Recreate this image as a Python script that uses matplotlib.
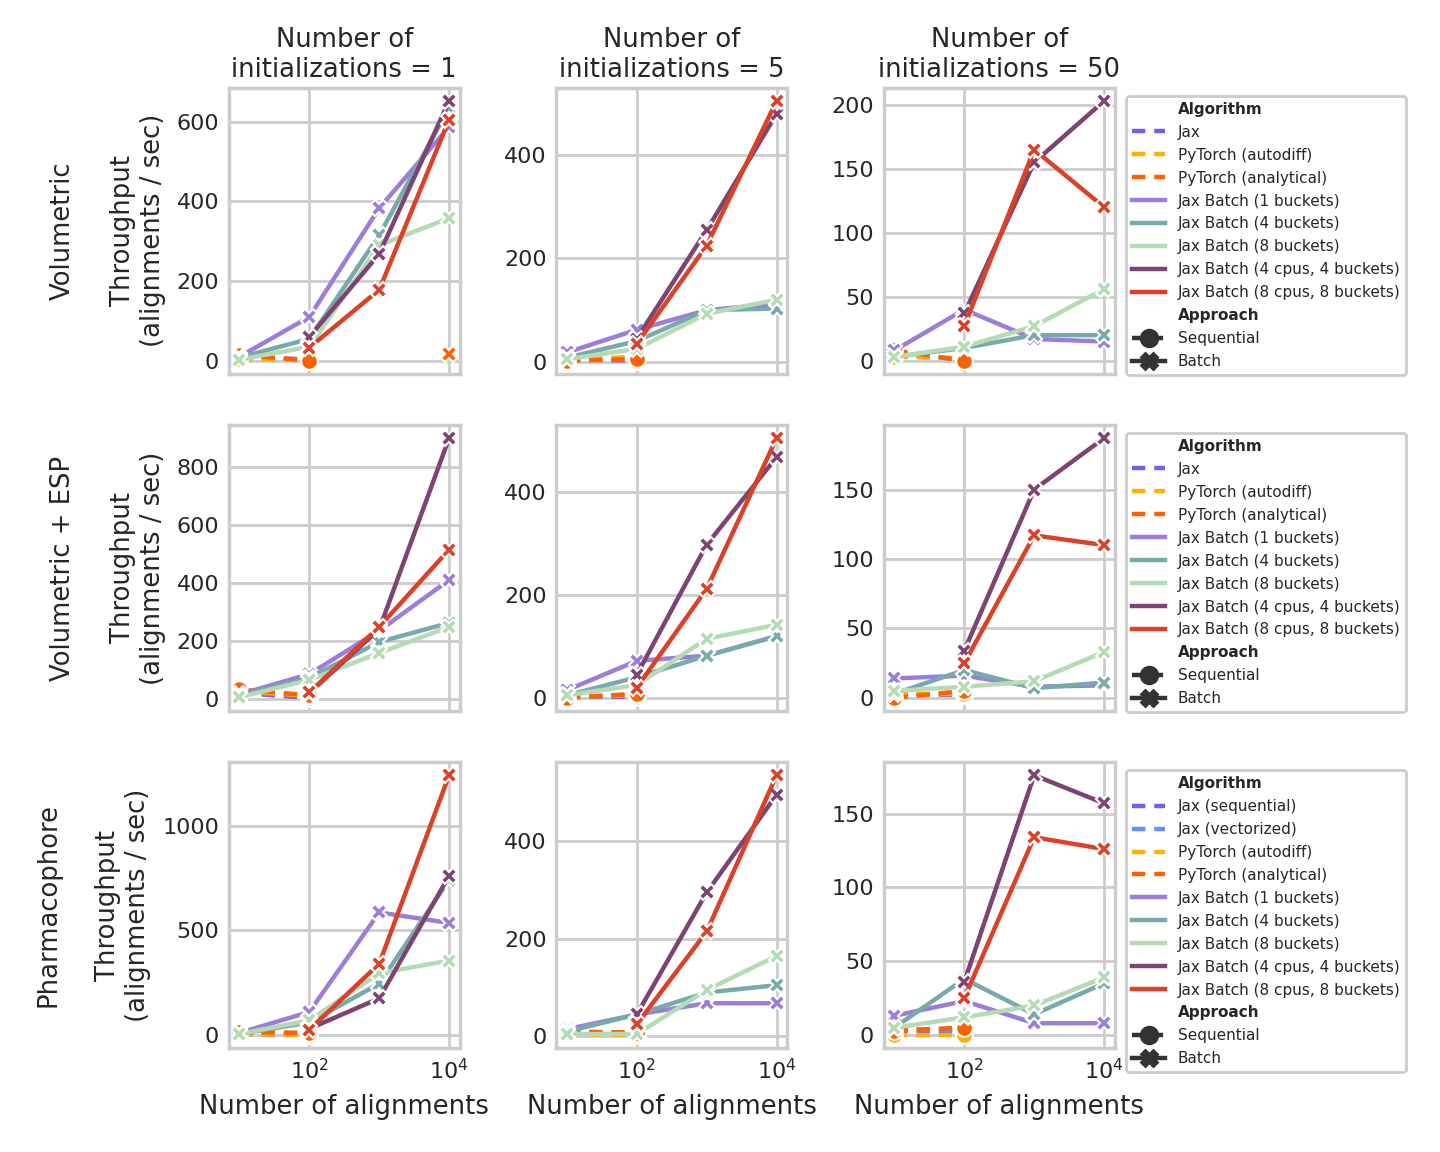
import matplotlib
matplotlib.use("Agg")
import matplotlib.pyplot as plt
from matplotlib.lines import Line2D
from matplotlib.ticker import MaxNLocator

SIZES = [10, 100, 1000, 10000]
CPU_SIZES = [100, 1000, 10000]
SEQ_SIZES = [10, 100]
INITS = [1, 5, 50]
DATASETS = ["Volumetric", "Volumetric + ESP", "Pharmacophore"]

# throughput (alignments / sec), one inner list per number of initializations (1, 5, 50)
# --- Volumetric ---
VOL_B1 = [[10, 110, 383, 587], [18, 62, 100, 112], [8, 40, 17, 15]]
VOL_B4 = [[8, 55, 315, 635], [8, 40, 100, 103], [3, 10, 20, 20]]
VOL_B8 = [[3, 35, 290, 358], [5, 25, 93, 120], [3, 11, 27, 56]]
VOL_C4 = [[60, 268, 652], [45, 255, 480], [37, 155, 203]]
VOL_C8 = [[33, 178, 605], [35, 225, 505], [27, 165, 120]]
VOL_JAX = [[10, 3], [5, 2], [5, 1]]
VOL_AUTODIFF = [[5, 5], [3, 10], [3, 2]]
VOL_ANALYTICAL = [[15, 0], [2, 5], [8, 0]]
VOL_ANALYTICAL_BATCH_1E4 = 18  # lone batch point, 1 initialization

# --- Volumetric + ESP ---
ESP_B1 = [[15, 85, 235, 410], [15, 72, 82, 120], [14, 16, 8, 9]]
ESP_B4 = [[10, 72, 196, 262], [5, 40, 82, 120], [3, 20, 7, 11]]
ESP_B8 = [[5, 65, 158, 248], [5, 25, 115, 142], [5, 8, 12, 33]]
ESP_C4 = [[20, 240, 900], [45, 298, 468], [34, 150, 187]]
ESP_C8 = [[22, 248, 515], [20, 212, 505], [25, 117, 110]]
ESP_JAX = [[20, 3], [3, 2], [3, 2]]
ESP_AUTODIFF = [[25, 10], [3, 5], [3, 3]]
ESP_ANALYTICAL = [[32, 12], [0, 8], [0, 5]]

# --- Pharmacophore ---
PH_B1 = [[10, 110, 585, 535], [15, 45, 68, 68], [13, 23, 8, 8]]
PH_B4 = [[5, 60, 245, 740], [10, 45, 90, 105], [5, 38, 14, 35]]
PH_B8 = [[5, 70, 295, 355], [5, 5, 95, 165], [5, 12, 20, 39]]
PH_C4 = [[30, 175, 760], [45, 295, 495], [36, 176, 157]]
PH_C8 = [[25, 340, 1240], [25, 215, 535], [25, 134, 126]]
PH_JAX_SEQ = [[5, 2], [10, 3], [3, 2]]
PH_JAX_VEC = [[8, 5], [8, 5], [4, 3]]
PH_AUTODIFF = [[5, 0], [5, 3], [0, 0]]
PH_ANALYTICAL = [[15, 10], [10, 8], [3, 5]]

COLORS = {
    "Jax": "#785EF0",
    "Jax (sequential)": "#785EF0",
    "Jax (vectorized)": "#648FFF",
    "PyTorch (autodiff)": "#FFB000",
    "PyTorch (analytical)": "#FE6100",
    "Jax Batch (1 buckets)": "#9D7DDA",
    "Jax Batch (4 buckets)": "#78AAAC",
    "Jax Batch (8 buckets)": "#B5DBB5",
    "Jax Batch (4 cpus, 4 buckets)": "#7D4471",
    "Jax Batch (8 cpus, 8 buckets)": "#DC4128",
}

LW = 1.6
MS = 6
DASH = (3, 2)

plt.rcParams.update({
    "font.family": "DejaVu Sans",
    "text.color": "0.15",
    "axes.labelcolor": "0.15",
    "xtick.color": "0.15",
    "ytick.color": "0.15",
    "axes.edgecolor": "0.8",
    "axes.linewidth": 1.25,
    "grid.color": "0.8",
    "grid.linewidth": 1.0,
    "xtick.major.size": 0,
    "ytick.major.size": 0,
    "xtick.minor.size": 0,
    "ytick.minor.size": 0,
    "xtick.labelsize": 8,
    "ytick.labelsize": 8,
    "axes.titlesize": 9.3,
    "axes.labelsize": 9.3,
})


def panels():
    seq = [
        {"Jax": VOL_JAX, "PyTorch (autodiff)": VOL_AUTODIFF,
         "PyTorch (analytical)": VOL_ANALYTICAL},
        {"Jax": ESP_JAX, "PyTorch (autodiff)": ESP_AUTODIFF,
         "PyTorch (analytical)": ESP_ANALYTICAL},
        {"Jax (sequential)": PH_JAX_SEQ, "Jax (vectorized)": PH_JAX_VEC,
         "PyTorch (autodiff)": PH_AUTODIFF, "PyTorch (analytical)": PH_ANALYTICAL},
    ]
    batch = [
        (VOL_B1, VOL_B4, VOL_B8, VOL_C4, VOL_C8),
        (ESP_B1, ESP_B4, ESP_B8, ESP_C4, ESP_C8),
        (PH_B1, PH_B4, PH_B8, PH_C4, PH_C8),
    ]
    return seq, batch


def line(ax, x, y, color, sequential):
    kw = dict(color=color, lw=LW, ms=MS, mec="white", mew=0.75)
    if sequential:
        ax.plot(x, y, marker="o", dashes=DASH, **kw)
    else:
        ax.plot(x, y, marker="X", ls="-", **kw)


def legend(ax, seq_names):
    batch_names = list(COLORS)[5:]
    handles = [Line2D([], [], ls="none", label="Algorithm")]
    for n in seq_names:
        handles.append(Line2D([], [], color=COLORS[n], lw=LW, dashes=DASH, label=n))
    for n in batch_names:
        handles.append(Line2D([], [], color=COLORS[n], lw=LW, label=n))
    handles.append(Line2D([], [], ls="none", label="Approach"))
    handles.append(Line2D([], [], color="0.2", lw=LW, dashes=(2, 3), marker="o",
                          ms=MS, label="Sequential"))
    handles.append(Line2D([], [], color="0.2", lw=LW, marker="X", ms=MS,
                          label="Batch"))
    leg = ax.legend(handles=handles, loc="upper left", bbox_to_anchor=(1.015, 1.0),
                    fontsize=5.5, labelspacing=0.52, handlelength=2.2,
                    edgecolor="0.8", framealpha=1)
    for t in leg.get_texts():
        if t.get_text() in ("Algorithm", "Approach"):
            t.set_fontweight("bold")


def main():
    seq, batch = panels()
    batch_names = list(COLORS)[5:]
    fig, axes = plt.subplots(3, 3, figsize=(7.2, 5.76), dpi=200, sharex="col")
    fig.subplots_adjust(left=0.159, right=0.774, top=0.9236, bottom=0.0903,
                        wspace=0.42, hspace=0.18)

    for r in range(3):
        for c in range(3):
            ax = axes[r, c]
            ax.set_xscale("log")
            ax.grid(True)
            ax.set_axisbelow(True)
            for name, vals in seq[r].items():
                line(ax, SEQ_SIZES, vals[c], COLORS[name], True)
            if r == 0 and c == 0:
                line(ax, [10000], [VOL_ANALYTICAL_BATCH_1E4],
                     COLORS["PyTorch (analytical)"], False)
            for name, series in zip(batch_names, batch[r]):
                xs = CPU_SIZES if "cpus" in name else SIZES
                line(ax, xs, series[c], COLORS[name], False)
            ax.set_xticks([100, 10000])
            ax.set_xticklabels([r"$10^2$", r"$10^4$"])
            ax.minorticks_off()
            ax.yaxis.set_major_locator(MaxNLocator(nbins=5, steps=[1, 2, 5, 10]))
            if r == 0:
                ax.set_title("Number of\ninitializations = %d" % INITS[c], pad=4)
            if r == 2:
                ax.set_xlabel("Number of alignments")
            else:
                ax.tick_params(labelbottom=False)
            if c == 0:
                ax.set_ylabel(DATASETS[r] + "\n\nThroughput\n(alignments / sec)")
            if c == 2:
                legend(ax, list(seq[r]))

    fig.savefig("out.png", dpi=200, facecolor="white")


if __name__ == "__main__":
    main()
